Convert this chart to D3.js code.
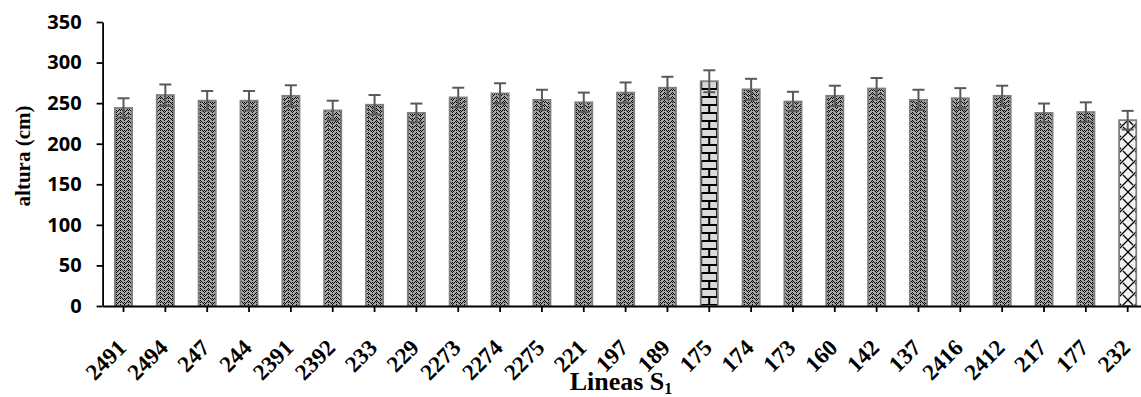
<!DOCTYPE html>
<html>
<head>
<meta charset="utf-8">
<script src="https://cdn.jsdelivr.net/npm/d3@7"></script>
<style>
  body { margin: 0; background: #fff; }
  svg { display: block; }
</style>
</head>
<body>
<svg id="chart"></svg>
<script>
// lineas S1, altura promedio (cm) y error
const lineas = ["2491","2494","247","244","2391","2392","233","229","2273","2274","2275","221","197","189","175","174","173","160","142","137","2416","2412","217","177","232"];
const altura = [244, 260, 253, 253, 259, 241, 248, 238, 257, 262, 254, 251, 263, 269, 277, 267, 252, 259, 268, 254, 256, 259, 238, 239, 229];
const errores = [12, 13, 12, 12, 13, 12, 12, 11.5, 12, 12.5, 12.5, 12, 12.5, 13.5, 13.5, 13, 12, 12.5, 13, 12.5, 12.5, 12.5, 11.5, 12, 11.5];
const yTicks = [0, 50, 100, 150, 200, 250, 300, 350];

const W = 1141, H = 397;
const plot = { left: 102.6, right: 1148.6, top: 22, bottom: 306 };

const svg = d3.select("#chart").attr("width", W).attr("height", H);

const x = d3.scaleBand()
    .domain(lineas)
    .range([plot.left, plot.right])
    .paddingInner(0.59)
    .paddingOuter(0.295);
const y = d3.scaleLinear()
    .domain([0, 350])
    .range([plot.bottom, plot.top]);

// patrones
const defs = svg.append("defs");

function pixelPattern(id, w, h, bg, rows) {
  const p = defs.append("pattern")
      .attr("id", id)
      .attr("patternUnits", "userSpaceOnUse")
      .attr("width", w).attr("height", h);
  p.append("rect").attr("width", w).attr("height", h).attr("fill", bg);
  let d = "";
  rows.forEach((r, j) => {
    for (let i = 0; i < r.length; i++) if (r[i] === "X") d += `M${i},${j}h1v1h-1z`;
  });
  p.append("path").attr("d", d).attr("fill", "#000").attr("shape-rendering", "crispEdges");
  return p;
}

pixelPattern("zigzag", 8, 4, "#a6a6a6", [
  "X...X...",
  ".X.....X",
  "X.X.X.X.",
  "...X.X.."
]);

const brickX = x("175");
const brick = defs.append("pattern")
    .attr("id", "ladrillo")
    .attr("patternUnits", "userSpaceOnUse")
    .attr("x", brickX - 0.5).attr("y", 0)
    .attr("width", 16).attr("height", 16);
brick.append("rect").attr("width", 16).attr("height", 16).attr("fill", "#d9d9d9");
brick.append("path")
    .attr("d", "M0,0h16v2h-16z M0,2h2v6h-2z M0,8h16v2h-16z M8,10h2v6h-2z")
    .attr("fill", "#000")
    .attr("shape-rendering", "crispEdges");

const tej = defs.append("pattern")
    .attr("id", "testigo")
    .attr("patternUnits", "userSpaceOnUse")
    .attr("width", 12).attr("height", 12);
tej.append("rect").attr("width", 12).attr("height", 12).attr("fill", "#f2f2f2");
tej.append("path")
    .attr("d", "M0,0L5,5 M7,7L12,12 M12,0L6,6L0,12")
    .attr("stroke", "#000")
    .attr("stroke-width", 1.3)
    .attr("fill", "none");

const rellenos = { "175": "url(#ladrillo)", "232": "url(#testigo)" };

const datos = lineas.map((l, i) => ({ linea: l, v: altura[i], e: errores[i] }));

// barras
svg.selectAll(".bar")
    .data(datos)
  .enter().append("rect")
    .attr("class", "bar")
    .attr("x", d => x(d.linea))
    .attr("width", x.bandwidth())
    .attr("y", d => y(d.v))
    .attr("height", d => y(0) - y(d.v))
    .attr("fill", d => rellenos[d.linea] || "url(#zigzag)")
    .attr("stroke", "#7f7f7f")
    .attr("stroke-width", 1.8);

// barras de error
const eb = svg.selectAll(".err")
    .data(datos)
  .enter().append("g")
    .attr("class", "err")
    .attr("stroke", "#595959")
    .attr("stroke-width", 2);
const cx = d => x(d.linea) + x.bandwidth() / 2;
eb.append("line")
    .attr("x1", cx).attr("x2", cx)
    .attr("y1", d => y(d.v - d.e)).attr("y2", d => y(d.v + d.e));
eb.append("line")
    .attr("x1", d => cx(d) - 6).attr("x2", d => cx(d) + 6)
    .attr("y1", d => y(d.v + d.e)).attr("y2", d => y(d.v + d.e));
eb.append("line")
    .attr("x1", d => cx(d) - 6).attr("x2", d => cx(d) + 6)
    .attr("y1", d => y(d.v - d.e)).attr("y2", d => y(d.v - d.e));

// ejes
const yAxis = svg.append("g")
    .attr("transform", `translate(${plot.left},0)`)
    .call(d3.axisLeft(y).tickValues(yTicks).tickSize(6).tickSizeOuter(0).tickPadding(15));
yAxis.selectAll("text")
    .attr("font-family", "'Open Sans', sans-serif")
    .attr("font-weight", "bold")
    .attr("font-size", 20)
    .attr("fill", "#000");

const xAxis = svg.append("g")
    .attr("transform", `translate(0,${plot.bottom})`)
    .call(d3.axisBottom(x).tickSize(6).tickSizeOuter(0));
xAxis.selectAll("text")
    .attr("font-family", "'Liberation Serif', 'Times New Roman', serif")
    .attr("font-weight", "bold")
    .attr("font-size", 23)
    .attr("fill", "#000")
    .attr("text-anchor", "end")
    .attr("x", 4).attr("y", 43).attr("dy", 0)
    .attr("transform", "rotate(-45,4,43)");

svg.selectAll(".domain, .tick line")
    .attr("stroke", "#000")
    .attr("stroke-width", 1.8);

// titulos
svg.append("text")
    .attr("transform", "translate(30,156) rotate(-90)")
    .attr("text-anchor", "middle")
    .attr("font-family", "'Liberation Serif', 'Times New Roman', serif")
    .attr("font-weight", "bold")
    .attr("font-size", 21)
    .text("altura (cm)");

const xt = svg.append("text")
    .attr("x", 621).attr("y", 390)
    .attr("text-anchor", "middle")
    .attr("font-family", "'Liberation Serif', 'Times New Roman', serif")
    .attr("font-weight", "bold")
    .attr("font-size", 26);
xt.append("tspan").text("Lineas S");
xt.append("tspan").attr("font-size", 16).attr("dy", 4).text("1");
</script>
</body>
</html>
